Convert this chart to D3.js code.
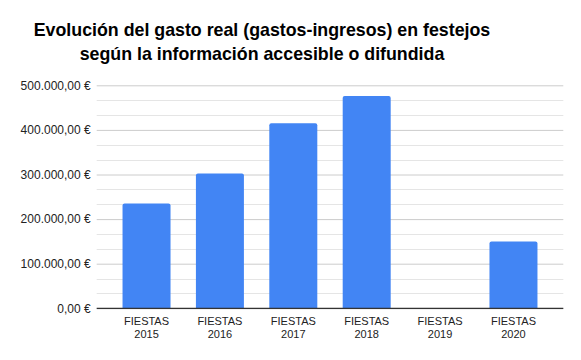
<!DOCTYPE html>
<html><head><meta charset="utf-8">
<script src="https://cdn.jsdelivr.net/npm/d3@7"></script>
<style>body{margin:0;background:#fff}svg{display:block;font-family:"Liberation Sans",Arial,sans-serif}</style>
</head><body><svg id="c" width="581" height="360"></svg>
<script>
const categories = ["FIESTAS 2015","FIESTAS 2016","FIESTAS 2017","FIESTAS 2018","FIESTAS 2019","FIESTAS 2020"];
const values = [235000, 302500, 415000, 476000, 0, 150000];
const yTicks = [0, 100000, 200000, 300000, 400000, 500000];
const titleLines = ["Evolución del gasto real (gastos-ingresos) en festejos","según la información accesible o difundida"];

(function(){
const svg = d3.select("#c");
const mLeft = 96.7, mRight = 563.3, mTop = 85.3, mBottom = 308.3;
const x = d3.scaleBand().domain(categories).range([mLeft, mRight]).paddingInner(0.346).paddingOuter(0.352);
const y = d3.scaleLinear().domain([0, 500000]).range([mBottom, mTop]);

// title
svg.append("text").attr("x", 262).attr("y", 36).attr("text-anchor","middle")
  .attr("font-size", 17.8).attr("font-weight","bold").attr("fill","#000")
  .selectAll("tspan").data(titleLines).join("tspan")
  .attr("x", 262).attr("dy",(d,i)=> i? 23.5 : 0).text(d=>d);

// minor gridlines
const minor = d3.range(0, 500001, 100000/3).filter(v => Math.abs(v/100000 - Math.round(v/100000))>1e-6);
svg.append("g").selectAll("line").data(minor).join("line")
  .attr("x1", mLeft).attr("x2", mRight).attr("y1", d=>Math.round(y(d))+0.5).attr("y2", d=>Math.round(y(d))+0.5)
  .attr("stroke","#e5e5e5").attr("stroke-width",1);

// y axis
const fmt = v => {
  const s = d3.format(",.2f")(v).replace(/,/g,"#").replace(".",",").replace(/#/g,".");
  return s + " €";
};
const yAxis = svg.append("g").attr("transform",`translate(${mLeft},0)`)
  .call(d3.axisLeft(y).tickValues(yTicks).tickSize(-(mRight-mLeft)).tickPadding(6).tickFormat(fmt));
yAxis.select(".domain").remove();
yAxis.selectAll(".tick line").attr("stroke","#cccccc");
yAxis.selectAll(".tick text").attr("font-size",12).attr("fill","#222").attr("font-family","Liberation Sans, Arial, sans-serif");

// bars
const r = 2;
svg.append("g").selectAll("path").data(values.map((v,i)=>({c:categories[i], v})).filter(d=>d.v>0)).join("path")
  .attr("fill","#4285f4")
  .attr("d", d => {
    const x0 = x(d.c), w = x.bandwidth(), y0 = y(d.v), y1 = y(0);
    return `M${x0},${y1}V${y0+r}Q${x0},${y0} ${x0+r},${y0}H${x0+w-r}Q${x0+w},${y0} ${x0+w},${y0+r}V${y1}Z`;
  });

// x axis
const xAxis = svg.append("g").attr("transform",`translate(0,${mBottom})`)
  .call(d3.axisBottom(x).tickSize(0).tickPadding(0));
xAxis.select(".domain").attr("stroke","#333").attr("stroke-width",1.2).attr("d",`M${mLeft},0H${mRight}`);
xAxis.selectAll(".tick text").each(function(d){
  const t = d3.select(this); t.text(null).attr("y",0).attr("dy",null)
    .attr("font-size",11).attr("fill","#222").attr("font-family","Liberation Sans, Arial, sans-serif");
  d.split(" ").forEach((p,i)=> t.append("tspan").attr("x",0).attr("y", 16.5 + i*13.7).text(p));
});
})();
</script></body></html>
